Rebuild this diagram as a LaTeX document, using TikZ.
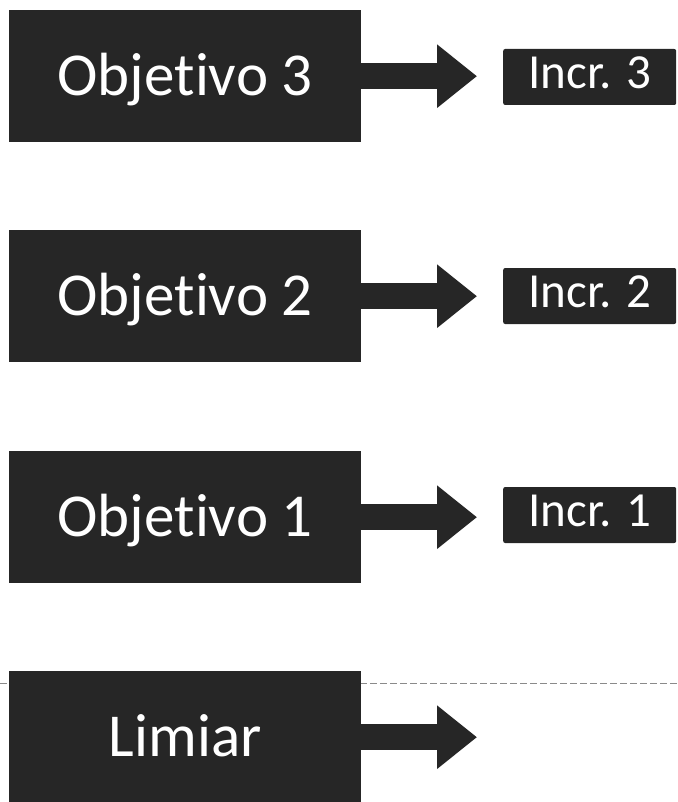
\documentclass[tikz,border=0pt]{standalone}
\usepackage{fontspec}
\setmainfont[Ligatures={NoCommon}]{Carlito}
\usetikzlibrary{arrows.meta}
\definecolor{boxgray}{HTML}{262626}
\definecolor{dashgray}{HTML}{8A8A8A}
\tikzset{
  objbox/.style={fill=boxgray, text=white, minimum width=352pt, minimum height=132pt,
    inner sep=0pt, font=\fontsize{61}{64}\selectfont, text height=39pt, text depth=0pt, anchor=north west},
  incrbox/.style={fill=boxgray, text=white, rounded corners=2pt, minimum width=173pt, minimum height=56pt,
    inner sep=0pt, font=\fontsize{49}{52}\selectfont, text height=31pt, text depth=8pt, anchor=west},
  fatarrow/.style={draw=boxgray, line width=26pt, -{Triangle[length=40pt,width=61pt]}},
  thresh/.style={draw=dashgray, line width=0.8pt, dash pattern=on 7pt off 3pt},
}
\begin{document}
\begin{tikzpicture}[x=1pt,y=-1pt]
\useasboundingbox (0,0) rectangle (677,802);
% threshold line
\coordinate (dl) at (0,683);
\coordinate (dr) at (677,683);
\draw[thresh] (dl) -- (dr);
% objective boxes
\node[objbox] (o3) at (9,10) {Objetivo 3};
\node[objbox] (o2) at (9,230) {Objetivo 2};
\node[objbox] (o1) at (9,451) {Objetivo 1};
\node[objbox] (lim) at (9,671) {Limiar};
% increment boxes
\node[incrbox] (i3) at (503,77) {Incr. 3};
\node[incrbox] (i2) at (503,296) {Incr. 2};
\node[incrbox] (i1) at (503,515) {Incr. 1};
% arrow tips
\coordinate (t3) at (477,0 |- o3.east);
\coordinate (t2) at (477,0 |- o2.east);
\coordinate (t1) at (477,0 |- o1.east);
\coordinate (tl) at (477,0 |- lim.east);
\draw[fatarrow] (o3.east) -- (t3);
\draw[fatarrow] (o2.east) -- (t2);
\draw[fatarrow] (o1.east) -- (t1);
\draw[fatarrow] (lim.east) -- (tl);
\end{tikzpicture}
\end{document}
